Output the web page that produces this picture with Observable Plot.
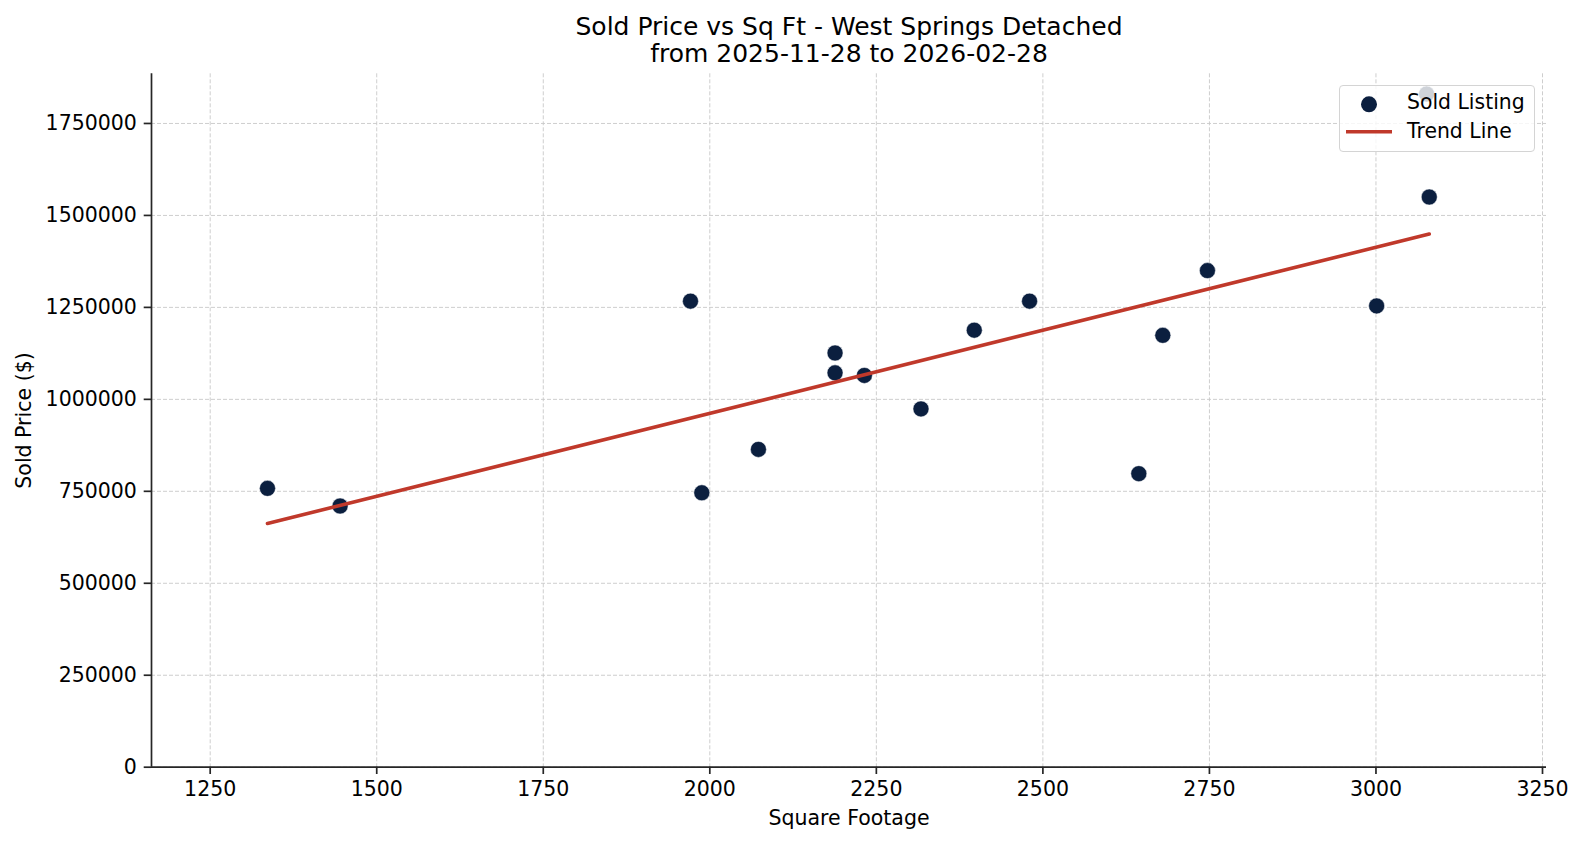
<!DOCTYPE html>
<html>
<head>
<meta charset="utf-8">
<script src="https://cdn.jsdelivr.net/npm/d3@7"></script>
<script src="https://cdn.jsdelivr.net/npm/@observablehq/plot@0.6"></script>
<style>
  html, body { margin: 0; padding: 0; background: #fff; }
  #wrap { position: relative; width: 1583px; height: 845px; font-family: "DejaVu Sans", sans-serif; }
  #chart svg { position: absolute; left: 0; top: 0; }
  #legend { position: absolute; left: 1339px; top: 85px; width: 196px; height: 67px;
            background: rgba(255,255,255,0.8); border: 1px solid #d4d4d4; border-radius: 4px; box-sizing: border-box; }
</style>
</head>
<body>
<div id="wrap">
  <div id="chart"></div>
  <div id="legend"></div>
</div>
<script>
// ---- data ----
const sqft  = [1336, 1445, 1971, 1988, 2073, 2188, 2188, 2232, 2317, 2397, 2480, 2644, 2680, 2747, 3001, 3080, 3076];
const price = [758000, 710000, 1267000, 746000, 864000, 1126000, 1072000, 1065000, 974000, 1188000, 1267000, 798000, 1174000, 1350000, 1254000, 1550000, 1830000];
const xTicks = [1250, 1500, 1750, 2000, 2250, 2500, 2750, 3000, 3250];
const yTicks = [0, 250000, 500000, 750000, 1000000, 1250000, 1500000, 1750000];
const xDomain = [1161.9, 3256];
const yDomain = [0, 1885000];
const titleLines = ["Sold Price vs Sq Ft - West Springs Detached", "from 2025-11-28 to 2026-02-28"];
const xLabel = "Square Footage";
const yLabel = "Sold Price ($)";
const legendLabels = ["Sold Listing", "Trend Line"];

const dotColor = "#0b1f3f";
const lineColor = "#c0392b";
const axisColor = "#262626";

const rows = sqft.map((x, i) => ({x, y: price[i]}));

const plot = Plot.plot({
  width: 1583,
  height: 845,
  marginTop: 73.3,
  marginLeft: 151,
  marginRight: 37,
  marginBottom: 78.3,
  style: {fontFamily: "DejaVu Sans", fontSize: "20.5px", background: "white", color: "#000", overflow: "visible"},
  x: {domain: xDomain},
  y: {domain: yDomain},
  marks: [
    Plot.gridX(xTicks, {stroke: "#c8c8c8", strokeOpacity: 1, strokeWidth: 0.9, strokeDasharray: "4,2"}),
    Plot.gridY(yTicks, {stroke: "#c8c8c8", strokeOpacity: 1, strokeWidth: 0.9, strokeDasharray: "4,2"}),
    Plot.axisX(xTicks, {tickSize: 7.3, tickPadding: 7.3, label: null, fontSize: 20.5, stroke: axisColor, strokeWidth: 1.7, fill: "#000", tickFormat: d3.format("d")}),
    Plot.axisY(yTicks, {tickSize: 7.3, tickPadding: 7.3, label: null, fontSize: 20.5, stroke: axisColor, strokeWidth: 1.7, fill: "#000", tickFormat: d3.format("d")}),
    Plot.ruleX([xDomain[0]], {stroke: axisColor, strokeWidth: 1.7}),
    Plot.ruleY([yDomain[0]], {stroke: axisColor, strokeWidth: 1.7}),
    Plot.dot(rows, {x: "x", y: "y", r: 8, fill: dotColor, stroke: "white", strokeWidth: 0.5}),
    Plot.linearRegressionY(rows, {x: "x", y: "y", stroke: lineColor, strokeWidth: 3.6, ci: 0}),
    Plot.text([titleLines[0]], {text: d => d, frameAnchor: "top", dy: -47, fontSize: 25, lineAnchor: "middle", fill: "#000"}),
    Plot.text([titleLines[1]], {text: d => d, frameAnchor: "top", dy: -19.6, fontSize: 25, lineAnchor: "middle", fill: "#000"}),
    Plot.text([xLabel], {text: d => d, frameAnchor: "bottom", dy: 51.5, fontSize: 20.5, lineAnchor: "middle", fill: "#000"}),
    Plot.text([yLabel], {text: d => d, frameAnchor: "left", dx: -127, rotate: -90, fontSize: 20.5, textAnchor: "middle", lineAnchor: "middle", fill: "#000"})
  ]
});
document.getElementById("chart").appendChild(plot);

// legend overlay (matplotlib-style box inside the plot)
const lg = d3.select("#legend").append("svg").attr("width", 196).attr("height", 67)
  .style("position", "absolute").style("left", "-1px").style("top", "-1px")
  .style("font-family", "DejaVu Sans").style("font-size", "20.4px");
lg.append("circle").attr("cx", 30).attr("cy", 19.3).attr("r", 8).attr("fill", dotColor);
lg.append("line").attr("x1", 7).attr("x2", 53).attr("y1", 46.7).attr("y2", 46.7).attr("stroke", lineColor).attr("stroke-width", 3.6);
lg.append("text").attr("x", 68).attr("y", 24.3).text(legendLabels[0]);
lg.append("text").attr("x", 68).attr("y", 53.3).text(legendLabels[1]);
</script>
</body>
</html>
